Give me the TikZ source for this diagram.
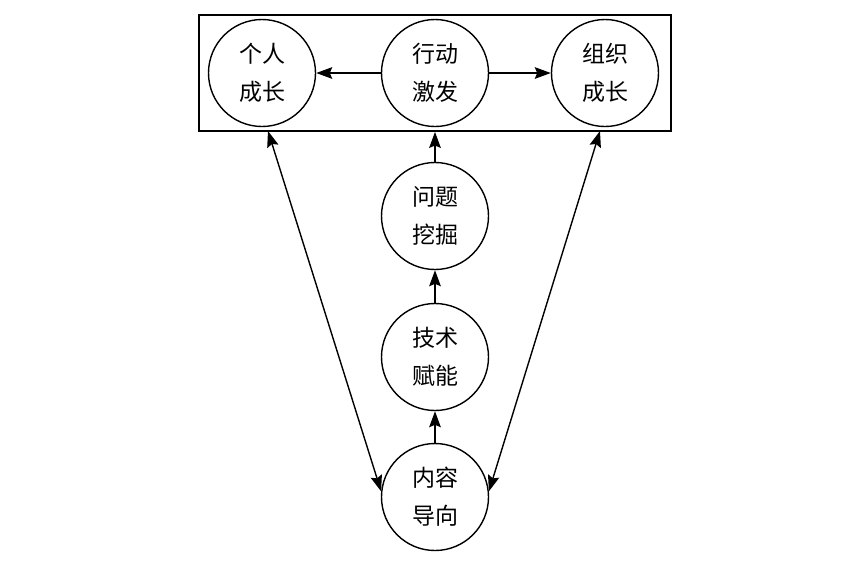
\documentclass[tikz,border=0pt]{standalone}
\usepackage{fontspec}
\newfontfamily\cjk{Noto Sans CJK SC}
\usetikzlibrary{arrows.meta}

\begin{document}
\begin{tikzpicture}[x=0.5pt,y=-0.5pt,
    stage/.style={draw,circle,line width=0.7pt,minimum size=53.5pt,inner sep=0pt,align=center,
        font=\cjk\fontsize{11.5}{19}\selectfont},
    arr/.style={-{Stealth[length=8pt,width=5.8pt,inset=1.2pt]},line width=0.7pt},
    darr/.style={{Stealth[length=8pt,width=5.8pt,inset=1.2pt]}-{Stealth[length=8pt,width=5.8pt,inset=1.2pt]},line width=0.7pt}]
    \useasboundingbox (0,0) rectangle (852,564);
    \node[draw,line width=0.9pt,minimum width=236pt,minimum height=58pt] (frame) at (435,73) {};
    \node[stage] (geren) at (262,73) {个人\\成长};
    \node[stage] (xingdong) at (435,73) {行动\\激发};
    \node[stage] (zuzhi) at (605,73) {组织\\成长};
    \node[stage] (wenti) at (435,216) {问题\\挖掘};
    \node[stage] (jishu) at (435,357) {技术\\赋能};
    \node[stage] (neirong) at (435,497) {内容\\导向};
    \coordinate (left top) at (268,131);
    \coordinate (right top) at (600,131);
    \draw[arr] (xingdong) -- (geren);
    \draw[arr] (xingdong) -- (zuzhi);
    \draw[arr] (wenti) -- (wenti |- frame.south);
    \draw[arr] (jishu) -- (wenti);
    \draw[arr] (neirong) -- (jishu);
    \draw[darr] (left top) -- (neirong.174);
    \draw[darr] (right top) -- (neirong.6);
\end{tikzpicture}
\end{document}
